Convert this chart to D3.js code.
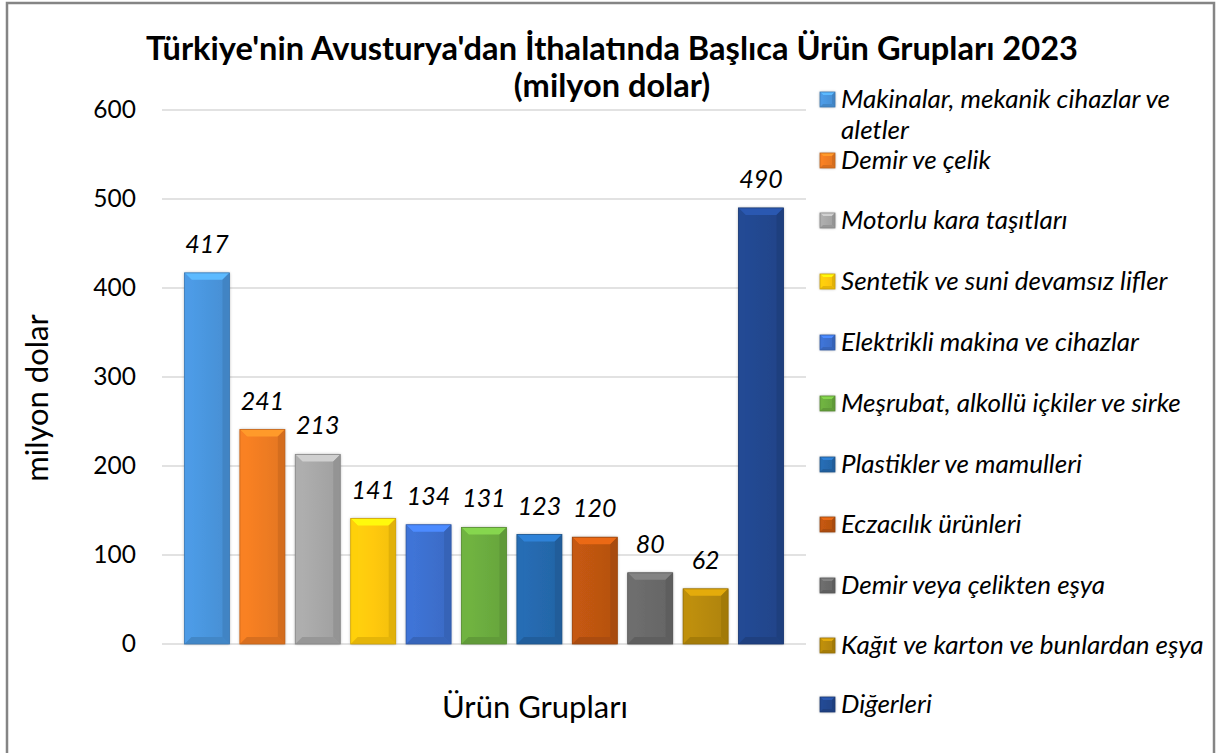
<!DOCTYPE html>
<html>
<head>
<meta charset="utf-8">
<script src="https://cdn.jsdelivr.net/npm/d3@7"></script>
<style>
  body { margin: 0; background: #fff; }
  svg { display: block; font-family: Lato, "Open Sans", sans-serif; }
</style>
</head>
<body>
<svg id="chart" width="1217" height="753"></svg>
<script>
// data
var categories = [
  "Makinalar, mekanik cihazlar ve aletler",
  "Demir ve çelik",
  "Motorlu kara taşıtları",
  "Sentetik ve suni devamsız lifler",
  "Elektrikli makina ve cihazlar",
  "Meşrubat, alkollü içkiler ve sirke",
  "Plastikler ve mamulleri",
  "Eczacılık ürünleri",
  "Demir veya çelikten eşya",
  "Kağıt ve karton ve bunlardan eşya",
  "Diğerleri"
];
var values = [417, 241, 213, 141, 134, 131, 123, 120, 80, 62, 490];
var colors = ["#4A96DE", "#F07C22", "#A8A8A8", "#FFC90A", "#3D70CF", "#6CAD3F",
              "#2569AE", "#BE5511", "#6A6A6A", "#B88A09", "#22478F"];
var yTicks = [0, 100, 200, 300, 400, 500, 600];
var titleLines = ["Türkiye'nin Avusturya'dan İthalatında Başlıca Ürün Grupları 2023", "(milyon dolar)"];
var yTitle = "milyon dolar";
var xTitle = "Ürün Grupları";

var svg = d3.select("#chart");

// outer frame
svg.append("rect")
  .attr("x", 7).attr("y", 3).attr("width", 1207).attr("height", 760)
  .attr("fill", "#fff").attr("stroke", "#858585").attr("stroke-width", 2.5);

var defs = svg.append("defs");
var f = defs.append("filter").attr("id", "shadow")
  .attr("x", "-20%").attr("y", "-20%").attr("width", "140%").attr("height", "140%");
f.append("feDropShadow").attr("dx", 0).attr("dy", 0).attr("stdDeviation", 1.6)
  .attr("flood-color", "#000").attr("flood-opacity", 0.35);

var x = d3.scaleBand().domain(d3.range(categories.length))
  .range([162, 806]).paddingInner(0.188).paddingOuter(0.406);
var y = d3.scaleLinear().domain([0, 600]).range([644, 110]);

// gridlines
svg.append("g").selectAll("line").data(yTicks).join("line")
  .attr("x1", 162).attr("x2", 806)
  .attr("y1", function(d) { return y(d); }).attr("y2", function(d) { return y(d); })
  .attr("stroke", "#d9d9d9").attr("stroke-width", 1.5);

// y axis labels (no line)
var yAxis = svg.append("g").attr("transform", "translate(140,0)")
  .call(d3.axisLeft(y).tickValues(yTicks).tickSize(0).tickPadding(4));
yAxis.select(".domain").remove();
yAxis.selectAll("text").attr("font-family", "Lato, sans-serif").attr("font-size", 24.5).attr("fill", "#000");

// bevelled box drawing
function bevelBox(g, x0, y0, w, h, c, b) {
  var base = d3.color(c);
  var gid = "g" + Math.random().toString(36).slice(2);
  var lg = defs.append("linearGradient").attr("id", gid).attr("x1", 0).attr("x2", 1).attr("y1", 0).attr("y2", 0);
  lg.append("stop").attr("offset", "0%").attr("stop-color", base.brighter(0.15));
  lg.append("stop").attr("offset", "50%").attr("stop-color", base);
  lg.append("stop").attr("offset", "100%").attr("stop-color", base.darker(0.15));
  g.append("rect").attr("x", x0).attr("y", y0).attr("width", w).attr("height", h)
    .attr("fill", "url(#" + gid + ")").attr("filter", "url(#shadow)");
  var bb = Math.min(b, h / 2, w / 2);
  var x1 = x0 + w, y1 = y0 + h;
  // top
  g.append("polygon").attr("points", [[x0, y0], [x1, y0], [x1 - bb, y0 + bb], [x0 + bb, y0 + bb]].join(" "))
    .attr("fill", base.brighter(0.6));
  // left
  g.append("polygon").attr("points", [[x0, y0], [x0 + bb, y0 + bb], [x0 + bb, y1 - bb], [x0, y1]].join(" "))
    .attr("fill", base.brighter(0.1));
  // right
  g.append("polygon").attr("points", [[x1, y0], [x1 - bb, y0 + bb], [x1 - bb, y1 - bb], [x1, y1]].join(" "))
    .attr("fill", base.darker(0.35));
  // bottom
  g.append("polygon").attr("points", [[x0, y1], [x0 + bb, y1 - bb], [x1 - bb, y1 - bb], [x1, y1]].join(" "))
    .attr("fill", base.darker(0.3));
  g.append("rect").attr("x", x0).attr("y", y0).attr("width", w).attr("height", h)
    .attr("fill", "none").attr("stroke", base.darker(0.6)).attr("stroke-width", 0.8);
}

var bars = svg.append("g");
values.forEach(function(v, i) {
  bevelBox(bars, x(i), y(v), x.bandwidth(), y(0) - y(v), colors[i], 7);
});

// data labels
svg.append("g").selectAll("text").data(values).join("text")
  .attr("x", function(d, i) { return x(i) + x.bandwidth() / 2; })
  .attr("y", function(d) { return y(d) - 20; })
  .attr("text-anchor", "middle")
  .attr("font-size", 25).attr("font-style", "italic")
  .text(function(d) { return d; });

// title
svg.append("g").selectAll("text").data(titleLines).join("text")
  .attr("x", 612).attr("y", function(d, i) { return 60 + i * 37; })
  .attr("text-anchor", "middle").attr("font-weight", "bold").attr("font-size", 32.6)
  .text(function(d) { return d; });

// axis titles
svg.append("text").attr("transform", "translate(48,398) rotate(-90)")
  .attr("text-anchor", "middle").attr("font-size", 31).text(yTitle);
svg.append("text").attr("x", 535).attr("y", 718)
  .attr("text-anchor", "middle").attr("font-size", 31).text(xTitle);

// legend
var legendY = [99, 160, 220, 281, 342, 403, 464, 524, 585, 645, 704];
var leg = svg.append("g");
categories.forEach(function(name, i) {
  var gy = legendY[i];
  bevelBox(leg, 820, gy - 7, 15, 15, colors[i], 3);
  var t = leg.append("text").attr("x", 841).attr("y", gy + 9)
    .attr("font-size", 26).attr("font-style", "italic");
  // wrap words to fit inside the frame
  var words = name.split(" "), line = [];
  var ts = t.append("tspan").attr("x", 841).attr("dy", 0);
  words.forEach(function(w) {
    line.push(w);
    ts.text(line.join(" "));
    if (ts.node().getComputedTextLength() > 372 && line.length > 1) {
      line.pop();
      ts.text(line.join(" "));
      line = [w];
      ts = t.append("tspan").attr("x", 841).attr("dy", 31).text(w);
    }
  });
});
</script>
</body>
</html>
